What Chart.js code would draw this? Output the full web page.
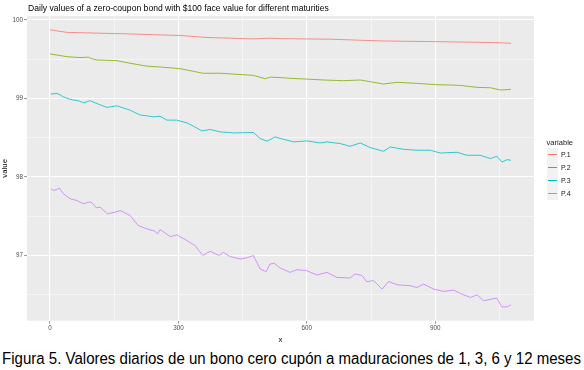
<!DOCTYPE html>
<html>
<head>
<meta charset="utf-8">
<script src="https://cdn.jsdelivr.net/npm/chart.js@4.4.1/dist/chart.umd.min.js"></script>
<style>
  html, body { margin: 0; padding: 0; background: #fff; }
  body { width: 584px; height: 370px; position: relative; overflow: hidden; font-family: "Liberation Sans", Arial, sans-serif; }
  #wrap { position: absolute; left: 0; top: 0; width: 584px; height: 345px; }
  #title { position: absolute; left: 28px; top: 3px; font-size: 8.6px; color: #000; white-space: nowrap; }
  #caption { position: absolute; left: 1.5px; top: 349.5px; font-size: 16px; color: #000; white-space: nowrap; transform-origin: 0 0; }
  #legend { position: absolute; left: 546.5px; top: 137px; font-size: 7px; color: #1a1a1a; }
  #legend .ttl { font-size: 7.6px; height: 11px; line-height: 11px; }
  #legend .row { height: 12.9px; display: flex; align-items: center; }
  #legend .key { width: 11.5px; height: 12.9px; background: #F2F2F2; position: relative; }
  #legend .key i { position: absolute; left: 1px; width: 9.5px; top: 6px; height: 1px; display: block; }
  #legend .lab { margin-left: 3px; }
</style>
</head>
<body>
<div id="wrap"><canvas id="c" width="584" height="345"></canvas></div>
<div id="title">Daily values of a zero-coupon bond with $100 face value for different maturities</div>
<div id="legend"></div>
<div id="caption">Figura 5. Valores diarios de un bono cero cupón a maduraciones de 1, 3, 6 y 12 meses</div>
<script>
// ---- data ----
const seriesNames = ["P.1", "P.2", "P.3", "P.4"];
const seriesColors = ["#F8766D", "#7CAE00", "#00BFC4", "#C77CFF"];

const p1Days   = [0, 39, 109, 187, 304, 366, 475, 514, 538, 655, 779, 888, 982, 1052, 1077];
const p1Values = [99.872, 99.84, 99.83, 99.82, 99.80, 99.775, 99.757, 99.766, 99.76, 99.753, 99.73, 99.723, 99.715, 99.708, 99.70];

const p2Days   = [0, 39, 70, 90, 94, 109, 156, 187, 226, 265, 304, 335, 358, 397, 437, 475, 503, 514, 538, 561, 608, 639, 686, 725, 748, 779, 811, 857, 904, 935, 959, 998, 1029, 1052, 1077];
const p2Values = [99.566, 99.531, 99.519, 99.525, 99.51, 99.489, 99.48, 99.447, 99.41, 99.396, 99.378, 99.344, 99.319, 99.32, 99.306, 99.293, 99.25, 99.27, 99.265, 99.255, 99.243, 99.234, 99.225, 99.234, 99.212, 99.183, 99.204, 99.191, 99.174, 99.17, 99.165, 99.14, 99.135, 99.106, 99.115];

const p3Days   = [2, 16, 23, 31, 47, 66, 78, 94, 113, 133, 156, 187, 210, 242, 257, 273, 296, 320, 335, 355, 374, 397, 429, 475, 491, 507, 526, 538, 569, 600, 631, 647, 678, 701, 725, 748, 779, 795, 826, 857, 888, 912, 951, 974, 1005, 1029, 1044, 1056, 1068, 1077];
const p3Values = [99.055, 99.064, 99.046, 99.02, 98.987, 98.97, 98.944, 98.97, 98.927, 98.885, 98.905, 98.85, 98.79, 98.765, 98.773, 98.723, 98.723, 98.688, 98.646, 98.586, 98.604, 98.574, 98.56, 98.566, 98.489, 98.455, 98.51, 98.49, 98.446, 98.459, 98.433, 98.446, 98.425, 98.39, 98.433, 98.374, 98.327, 98.382, 98.352, 98.34, 98.34, 98.305, 98.314, 98.276, 98.276, 98.234, 98.263, 98.19, 98.22, 98.212];

const p4Days   = [2, 8, 16, 22, 31, 47, 62, 78, 90, 97, 108, 117, 134, 152, 164, 187, 206, 226, 245, 251, 257, 281, 296, 320, 339, 357, 374, 395, 405, 421, 444, 460, 475, 491, 505, 514, 524, 538, 561, 577, 600, 624, 647, 670, 701, 713, 729, 740, 756, 776, 791, 811, 842, 857, 873, 896, 920, 943, 959, 982, 998, 1013, 1044, 1056, 1068, 1077];
const p4Values = [97.851, 97.829, 97.84, 97.858, 97.787, 97.723, 97.701, 97.659, 97.68, 97.676, 97.608, 97.616, 97.531, 97.552, 97.573, 97.51, 97.382, 97.34, 97.309, 97.275, 97.331, 97.241, 97.263, 97.19, 97.126, 97.0, 97.054, 97.0, 97.04, 96.986, 96.957, 96.97, 97.0, 96.829, 96.795, 96.893, 96.9, 96.841, 96.786, 96.82, 96.807, 96.752, 96.786, 96.722, 96.714, 96.765, 96.745, 96.667, 96.68, 96.573, 96.67, 96.628, 96.616, 96.594, 96.637, 96.573, 96.543, 96.56, 96.517, 96.466, 96.5, 96.424, 96.459, 96.347, 96.347, 96.373];

const xTickValues = [0, 150, 300, 450, 600, 750, 900, 1050];
const xMajorTicks = [0, 300, 600, 900];
const yTickValues = [96.5, 97, 97.5, 98, 98.5, 99, 99.5, 100];
const yMajorTicks = [97, 98, 99, 100];

const xTitle = "x";
const yTitle = "value";
const legendTitle = "variable";

// ---- build ----
const allDays = [p1Days, p2Days, p3Days, p4Days];
const allValues = [p1Values, p2Values, p3Values, p4Values];
const datasets = seriesNames.map((name, i) => ({
  label: name,
  data: allDays[i].map((d, k) => ({ x: d, y: allValues[i][k] })),
  borderColor: seriesColors[i],
  backgroundColor: seriesColors[i],
  borderWidth: 0.8,
  pointRadius: 0,
  tension: 0,
  fill: false
}));

// ggplot-like continuous expansion (5%)
const xs = allDays.flat(), ys = allValues.flat();
const xmin = Math.min(...xs), xmax = Math.max(...xs);
const ymin = Math.min(...ys), ymax = Math.max(...ys);
const xpad = (xmax - xmin) * 0.05, ypad = (ymax - ymin) * 0.05;

const FONT = "'Liberation Sans', Arial, sans-serif";

const panelBg = {
  id: 'panelBg',
  beforeDraw(chart) {
    const a = chart.chartArea, ctx = chart.ctx;
    ctx.save();
    ctx.fillStyle = '#EBEBEB';
    ctx.fillRect(a.left, a.top, a.right - a.left, a.bottom - a.top);
    ctx.restore();
  }
};

const isMajor = (arr, v) => arr.some(m => Math.abs(m - v) < 1e-9);

new Chart(document.getElementById('c'), {
  type: 'line',
  data: { datasets },
  options: {
    responsive: false,
    animation: false,
    layout: { padding: { left: 0, right: 50, top: 16, bottom: 0 } },
    plugins: { legend: { display: false }, tooltip: { enabled: false }, title: { display: false } },
    scales: {
      x: {
        type: 'linear',
        min: xmin - xpad,
        max: xmax + xpad,
        afterBuildTicks: s => { s.ticks = xTickValues.map(v => ({ value: v })); },
        afterFit: s => { s.height = 24.3; },
        border: { display: false },
        grid: {
          color: c => '#FFFFFF',
          lineWidth: c => isMajor(xMajorTicks, c.tick.value) ? 1.1 : 0.5,
          tickColor: c => isMajor(xMajorTicks, c.tick.value) ? '#4D4D4D' : 'rgba(0,0,0,0)',
          tickLength: 3,
          tickWidth: 0.6,
          drawTicks: true
        },
        ticks: {
          autoSkip: false, maxRotation: 0,
          padding: 1,
          color: '#4D4D4D',
          font: { family: FONT, size: 6.3 },
          callback: v => isMajor(xMajorTicks, v) ? String(v) : ''
        },
        title: { display: true, text: xTitle, color: '#000', font: { family: FONT, size: 7.8 }, padding: { top: 2, bottom: 0 } }
      },
      y: {
        type: 'linear',
        min: ymin - ypad,
        max: ymax + ypad,
        afterBuildTicks: s => { s.ticks = yTickValues.map(v => ({ value: v })); },
        afterFit: s => { s.width = 27; },
        border: { display: false },
        grid: {
          color: c => '#FFFFFF',
          lineWidth: c => isMajor(yMajorTicks, c.tick.value) ? 1.1 : 0.5,
          tickColor: c => isMajor(yMajorTicks, c.tick.value) ? '#4D4D4D' : 'rgba(0,0,0,0)',
          tickLength: 3,
          tickWidth: 0.6,
          drawTicks: true
        },
        ticks: {
          autoSkip: false,
          padding: 1,
          color: '#4D4D4D',
          font: { family: FONT, size: 6.3 },
          callback: v => isMajor(yMajorTicks, v) ? String(Math.round(v)) : ''
        },
        title: { display: true, text: yTitle, color: '#000', font: { family: FONT, size: 7.8 }, padding: { top: 0, bottom: 1 } }
      }
    }
  },
  plugins: [panelBg]
});

// legend (HTML, from series arrays)
const lg = document.getElementById('legend');
let html = '<div class="ttl">' + legendTitle + '</div>';
seriesNames.forEach((n, i) => {
  html += '<div class="row"><div class="key"><i style="background:' + seriesColors[i] + '"></i></div><div class="lab">' + n + '</div></div>';
});
lg.innerHTML = html;

// fit caption to the reference width
const cap = document.getElementById('caption');
const w = cap.getBoundingClientRect().width;
cap.style.transform = 'scaleX(' + (579 / w) + ')';
</script>
</body>
</html>
